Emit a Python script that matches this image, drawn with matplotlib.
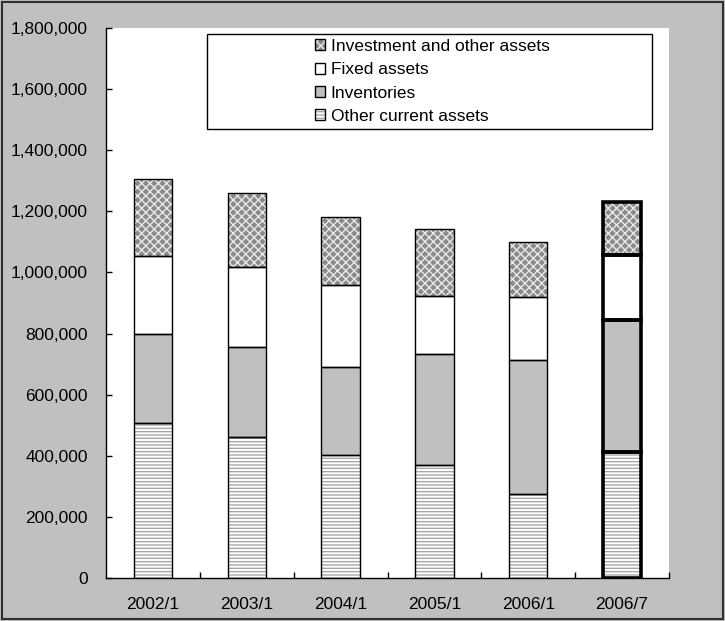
import matplotlib
matplotlib.use('Agg')
import matplotlib.pyplot as plt
from matplotlib.patches import Patch, Rectangle
from matplotlib.legend_handler import HandlerTuple
from matplotlib.ticker import StrMethodFormatter, FixedLocator

plt.rcParams['font.family'] = ['Liberation Sans', 'DejaVu Sans']
plt.rcParams['hatch.linewidth'] = 1.0

# values
periods = ['2002/1', '2003/1', '2004/1', '2005/1', '2006/1', '2006/7']
other_current = [508000, 462000, 402000, 371000, 276000, 411000]
inventories = [289000, 294000, 289000, 363000, 437000, 433000]
fixed_assets = [258000, 263000, 268000, 189000, 206000, 212000]
investment = [250000, 240000, 222000, 218000, 180000, 176000]

series = [
    ('Other current assets', other_current, 'white', '-----', '#a8a8a8'),
    ('Inventories', inventories, '#c0c0c0', None, '#c0c0c0'),
    ('Fixed assets', fixed_assets, 'white', None, 'white'),
    ('Investment and other assets', investment, '#8a8a8a', 'xxxx', '#e8e8e8'),
]

fig = plt.figure(figsize=(7.25, 6.21), dpi=100)
fig.patch.set_facecolor('#c0c0c0')
ax = fig.add_axes([106/725, 1 - 578/621, (669-106)/725, (578-28)/621])
ax.set_facecolor('white')

x = list(range(len(periods)))
width = 0.41
edge_w = [1.0] * (len(periods) - 1) + [2.6]

handles = []
bottom = [0] * len(periods)
for name, vals, fc, hatch, hc in series:
    ax.bar(x, vals, width, bottom=bottom, color=fc, hatch=hatch,
           edgecolor=hc, linewidth=0, zorder=2)
    ax.bar(x, vals, width, bottom=bottom, fill=False,
           edgecolor='black', linewidth=edge_w, zorder=3)
    handles.append((Patch(facecolor=fc, hatch=hatch, edgecolor=hc, linewidth=0),
                    Patch(fill=False, edgecolor='black', linewidth=1.0)))
    bottom = [b + v for b, v in zip(bottom, vals)]

ax.set_xlim(-0.5, len(periods) - 0.5)
ax.set_ylim(0, 1800000)
ax.set_yticks(range(0, 1800001, 200000))
ax.yaxis.set_major_formatter(StrMethodFormatter('{x:,.0f}'))
ax.set_xticks(x)
ax.set_xticklabels(periods)
ax.xaxis.set_minor_locator(FixedLocator([i + 0.5 for i in x]))
ax.tick_params(axis='x', which='major', length=0, pad=14, labelsize=12.5)
ax.tick_params(axis='x', which='minor', direction='in', length=4, width=1)
ax.tick_params(axis='y', direction='in', length=4, width=1, pad=13, labelsize=12.5)
for s in ['top', 'right']:
    ax.spines[s].set_visible(False)
for s in ['left', 'bottom']:
    ax.spines[s].set_linewidth(1.0)

# legend box
ax.add_patch(Rectangle((207/725, 1 - 128.5/621), (652-207)/725, (128.5-34.3)/621,
                       transform=fig.transFigure, facecolor='white', clip_on=False,
                       edgecolor='black', linewidth=1.0, zorder=4))
leg = ax.legend(handles[::-1], [s[0] for s in series][::-1],
                handler_map={tuple: HandlerTuple(ndivide=1)},
                loc='upper left', bbox_to_anchor=(315/725, 1 - 39/621),
                bbox_transform=fig.transFigure, frameon=False, fontsize=12.5,
                handlelength=0.6, handleheight=0.6, handletextpad=0.3,
                labelspacing=0.48, borderpad=0, borderaxespad=0)
leg.set_zorder(5)

# outer border
fig.patches.append(Rectangle((0.003, 0.004), 0.994, 0.992, transform=fig.transFigure,
                             fill=False, edgecolor='#303030', linewidth=1.5))

fig.savefig('out.png', dpi=100, facecolor=fig.get_facecolor())
